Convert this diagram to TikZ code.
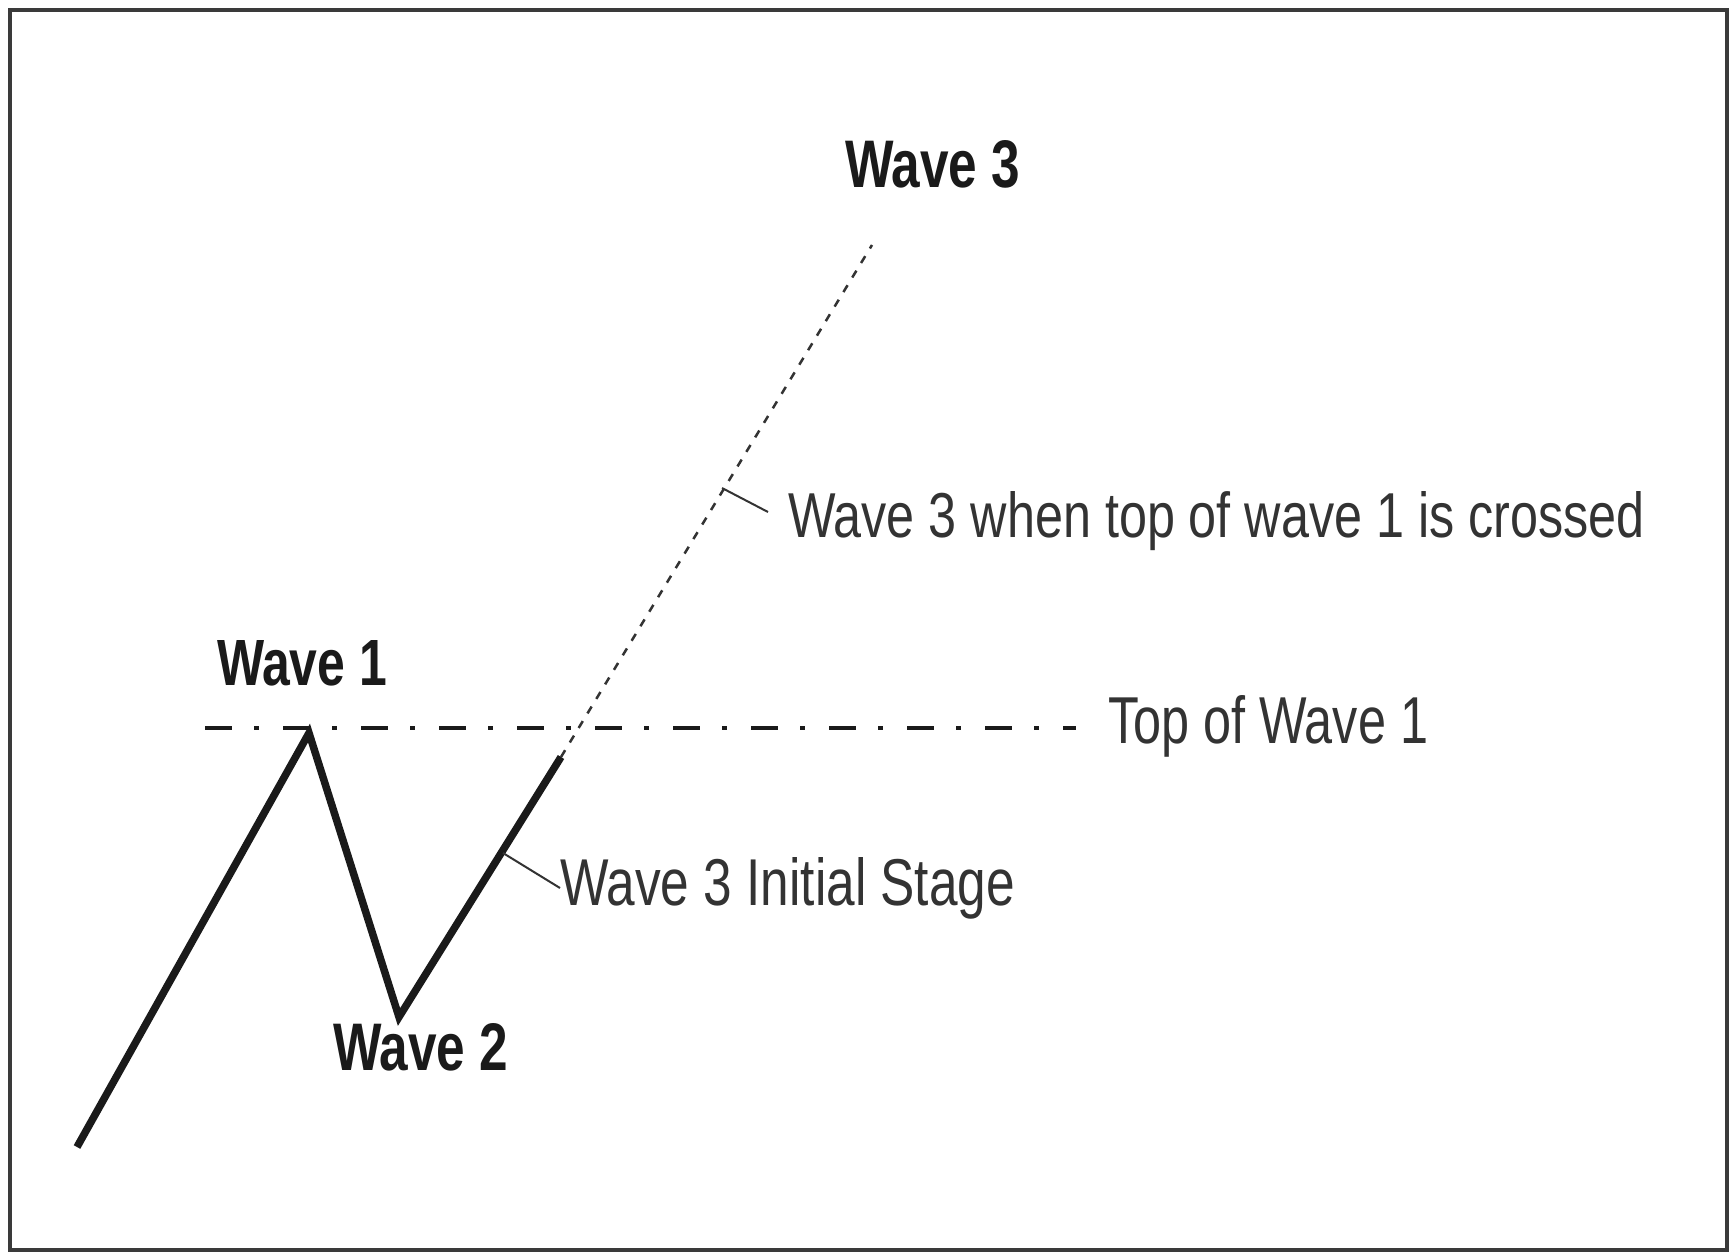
\documentclass[tikz,border=0pt]{standalone}
\usepackage{graphicx}
\usepackage{fontspec}
\setmainfont{Liberation Sans}
\definecolor{frame}{HTML}{3A3A3A}
\definecolor{ink}{HTML}{1A1A1A}
\definecolor{soft}{HTML}{333333}
\tikzset{
  lbl/.style={inner sep=0pt, outer sep=0pt, anchor=base west, text=soft},
  blbl/.style={inner sep=0pt, outer sep=0pt, anchor=base west, text=ink, font=\bfseries},
  wavepath/.style={line width=7.5pt, ink, line join=miter, line cap=butt},
  extension/.style={line width=2.5pt, soft, dash pattern=on 8pt off 9pt},
  toplevel/.style={line width=3.5pt, ink, dash pattern=on 27pt off 22pt on 5pt off 24pt},
  leader/.style={line width=2pt, soft}
}
\begin{document}
\begin{tikzpicture}[x=1pt,y=-1pt]
\useasboundingbox (0,0) rectangle (1730,1253);
\fill[white] (0,0) rectangle (1730,1253);
\draw[frame, line width=3.5pt] (10,10) rectangle (1727,1250);

% wave points
\coordinate (w0) at (77,1147);
\coordinate (w1) at (309,733);
\coordinate (w2) at (399,1017);
\coordinate (w3) at (561,757);
\coordinate (w3top) at (872,245);
\coordinate (lvlA) at (205,728);
\coordinate (lvlB) at (1076,728);
\coordinate (l1a) at (722,488);
\coordinate (l1b) at (768,512);
\coordinate (l2a) at (503,853);
\coordinate (l2b) at (560,888);

% lines
\draw[toplevel] (lvlA) -- (lvlB);
\draw[extension] (w3) -- (w3top);
\draw[wavepath] (w0) -- (w1) -- (w2) -- (w3);
\draw[leader] (l1a) -- (l1b);
\draw[leader] (l2a) -- (l2b);

% labels
\node[blbl] (tw3) at (845,187) {\resizebox{175pt}{47pt}{Wave 3}};
\node[blbl] (tw1) at (217,685) {\resizebox{170pt}{45pt}{Wave 1}};
\node[blbl] (tw2) at (333,1070) {\resizebox{175pt}{47pt}{Wave 2}};
\node[lbl] (ttop) at (1108,743) {\resizebox{320pt}{48pt}{Top of Wave 1}};
\node[lbl] (tinit) at (560,905) {\resizebox{455pt}{48pt}{Wave 3 Initial Stage}};
\node[lbl] (tcross) at (788,537) {\resizebox{857pt}{46pt}{Wave 3 when top of wave 1 is crossed}};
\end{tikzpicture}
\end{document}
